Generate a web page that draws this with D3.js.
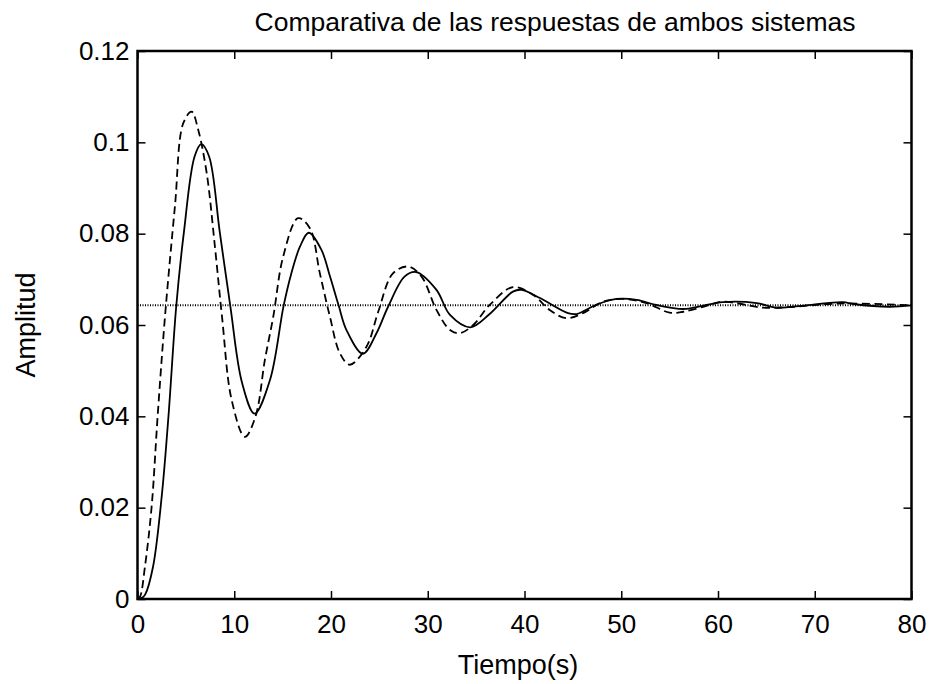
<!DOCTYPE html>
<html>
<head>
<meta charset="utf-8">
<script src="https://cdn.jsdelivr.net/npm/d3@7"></script>
<style>
  body { margin: 0; background: #fff; }
  text { font-family: "Liberation Sans", Arial, Helvetica, sans-serif; fill: #000; }
</style>
</head>
<body>
<div id="chart"></div>
<script>
// Respuesta del sistema original (linea continua)
const solidTime = [0, 0.5, 0.8, 1.6, 2.5, 3.2, 4.0, 4.8, 5.9, 6.6, 7.4, 8.5, 9.6, 10.8, 12.1, 13.7, 15.1, 15.9, 16.8, 17.7, 19.0, 19.9, 20.8, 21.6, 23.3, 24.7, 25.9, 27.6, 28.8, 30.9, 32.3, 34.4, 36.4, 38.8, 39.7, 41.6, 44.5, 45.4, 47.4, 49.5, 51.6, 53.6, 56.4, 58.4, 60.5, 64, 66, 69.1, 72.9, 74, 77.7, 80];
const solidAmp = [0, 0.0003, 0.001, 0.007, 0.0224, 0.040, 0.064, 0.0804, 0.0969, 0.0996, 0.0969, 0.0804, 0.064, 0.0474, 0.0406, 0.048, 0.0642, 0.0713, 0.0772, 0.0802, 0.0765, 0.0706, 0.0642, 0.0589, 0.0537, 0.0582, 0.064, 0.0706, 0.0716, 0.0677, 0.0622, 0.0595, 0.0624, 0.0673, 0.0677, 0.0659, 0.0626, 0.0624, 0.0644, 0.0657, 0.0655, 0.0644, 0.0635, 0.0642, 0.065, 0.0648, 0.0638, 0.0643, 0.065, 0.0646, 0.064, 0.0643];

// Respuesta del sistema aproximado (linea discontinua)
const dashTime = [0, 0.26, 0.77, 1.46, 2.08, 2.84, 3.87, 4.73, 5.6, 6.28, 7.15, 8.0, 8.75, 9.73, 11.1, 12.2, 13.17, 14.03, 15.06, 16.6, 17.82, 18.85, 19.89, 20.92, 21.95, 23.68, 24.88, 26.4, 27.98, 29.36, 30.9, 32.3, 33.3, 34.7, 36.4, 38.8, 40.9, 42.6, 44.3, 46.05, 48.1, 50.2, 52.6, 55, 56.4, 58.8, 60.5, 64.6, 67.2, 72.5, 80];
const dashAmp = [0, 0.0005, 0.0071, 0.0202, 0.040, 0.0618, 0.086, 0.1042, 0.1067, 0.1027, 0.0933, 0.0772, 0.0615, 0.0436, 0.0355, 0.040, 0.0524, 0.0618, 0.075, 0.0834, 0.0812, 0.0713, 0.0618, 0.0538, 0.0513, 0.0553, 0.0629, 0.0713, 0.0728, 0.0706, 0.0633, 0.0589, 0.0582, 0.06, 0.0644, 0.0683, 0.0666, 0.0633, 0.0615, 0.0626, 0.0651, 0.0657, 0.0648, 0.0627, 0.0629, 0.0642, 0.0651, 0.0638, 0.0639, 0.0647, 0.0643];

// Valor final (linea punteada)
const steadyValue = 0.0643;

const xTicks = [0, 10, 20, 30, 40, 50, 60, 70, 80];
const yTicks = [0, 0.02, 0.04, 0.06, 0.08, 0.1, 0.12];

const titleText = 'Comparativa de las respuestas de ambos sistemas';
const xLabel = 'Tiempo(s)';
const yLabel = 'Amplitud';

function drawChart() {
    const W = 930, H = 684;
    const margin = {top: 51, right: 18.5, bottom: 85, left: 137.5};
    const width = W - margin.left - margin.right;
    const height = H - margin.top - margin.bottom;

    const svg = d3.select('#chart').append('svg')
        .attr('width', W)
        .attr('height', H);

    const g = svg.append('g')
        .attr('transform', `translate(${margin.left},${margin.top})`);

    const x = d3.scaleLinear().domain([0, 80]).range([0, width]);
    const y = d3.scaleLinear().domain([0, 0.12]).range([height, 0]);

    const tickLen = 8;
    const fmtY = d => d === 0 ? '0' : String(+d.toFixed(2));

    // bottom & left axes (labels), ticks pointing inward
    const xAxis = g.append('g')
        .attr('transform', `translate(0,${height})`)
        .call(d3.axisBottom(x).tickValues(xTicks).tickSize(-tickLen).tickPadding(15.5).tickFormat(d3.format('d')));
    const yAxis = g.append('g')
        .call(d3.axisLeft(y).tickValues(yTicks).tickSize(-tickLen).tickPadding(8).tickFormat(fmtY));
    // top & right: ticks only
    const xTop = g.append('g')
        .call(d3.axisTop(x).tickValues(xTicks).tickSize(-tickLen).tickFormat(''));
    const yRight = g.append('g')
        .attr('transform', `translate(${width},0)`)
        .call(d3.axisRight(y).tickValues(yTicks).tickSize(-tickLen).tickFormat(''));

    [xAxis, yAxis, xTop, yRight].forEach(a => {
        a.select('.domain').remove();
        a.selectAll('line').attr('stroke', '#000').attr('stroke-width', 1.5);
        a.selectAll('text').style('font-size', '26px').attr('fill', '#000');
    });
    xAxis.selectAll('text').attr('dy', '0.71em');

    // box
    g.append('rect')
        .attr('x', 0).attr('y', 0)
        .attr('width', width).attr('height', height)
        .attr('fill', 'none')
        .attr('stroke', '#000')
        .attr('stroke-width', 2.5);

    // steady-state dotted line
    g.append('line')
        .attr('x1', x(0)).attr('x2', x(80))
        .attr('y1', y(steadyValue)).attr('y2', y(steadyValue))
        .attr('stroke', '#000')
        .attr('stroke-width', 2)
        .attr('stroke-dasharray', '1,1.5');

    const line = d3.line()
        .x(d => x(d[0]))
        .y(d => y(d[1]))
        .curve(d3.curveCatmullRom.alpha(0.5));

    const solidData = solidTime.map((t, i) => [t, solidAmp[i]]);
    const dashData = dashTime.map((t, i) => [t, dashAmp[i]]);

    g.append('path')
        .datum(dashData)
        .attr('d', line)
        .attr('fill', 'none')
        .attr('stroke', '#000')
        .attr('stroke-width', 1.8)
        .attr('stroke-dasharray', '8,4.5');

    g.append('path')
        .datum(solidData)
        .attr('d', line)
        .attr('fill', 'none')
        .attr('stroke', '#000')
        .attr('stroke-width', 1.8);

    // title and labels
    svg.append('text')
        .attr('x', 555)
        .attr('y', 30.5)
        .attr('text-anchor', 'middle')
        .style('font-size', '26.5px')
        .text(titleText);

    svg.append('text')
        .attr('x', 518)
        .attr('y', 674)
        .attr('text-anchor', 'middle')
        .style('font-size', '27px')
        .text(xLabel);

    svg.append('text')
        .attr('transform', `translate(35,${margin.top + height / 2}) rotate(-90)`)
        .attr('text-anchor', 'middle')
        .style('font-size', '27px')
        .text(yLabel);
}

drawChart();
</script>
</body>
</html>
